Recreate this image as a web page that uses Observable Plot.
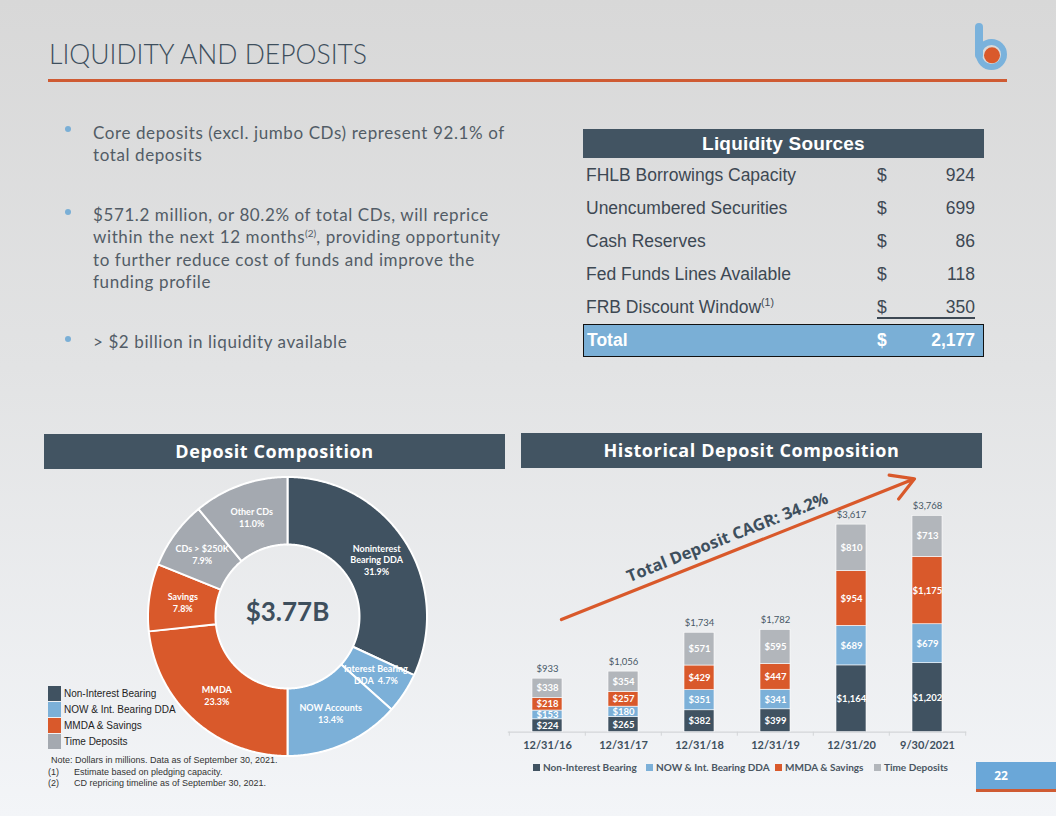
<!DOCTYPE html>
<html>
<head>
<meta charset="utf-8">
<script src="https://cdn.jsdelivr.net/npm/d3@7"></script>
<script src="https://cdn.jsdelivr.net/npm/@observablehq/plot@0.6"></script>
<style>
html,body{margin:0;padding:0;}
body{width:1056px;height:816px;overflow:hidden;position:relative;
  background:linear-gradient(180deg,#d8d8d8 0%,#e2e3e4 45%,#f3f5f8 100%);
  font-family:Lato,sans-serif;}
.abs{position:absolute;}
.title{left:49px;top:37.7px;font-size:26.5px;font-weight:300;color:#3e4f5d;line-height:32px;white-space:nowrap;}
.rule{left:48px;top:79px;width:959px;height:3px;background:#cf5b33;}
.bullet{left:93px;font-size:17px;letter-spacing:0.6px;line-height:22.5px;color:#525c66;white-space:nowrap;}
.bullet sup{font-size:10px;vertical-align:6px;line-height:0;letter-spacing:0;}
.dot{width:6px;height:6px;border-radius:3px;background:#7aafd6;left:65px;}
.thead{left:583px;top:129px;width:401px;height:29px;background:#425462;color:#fff;
  font-family:"Liberation Sans",Arial,sans-serif;font-weight:bold;font-size:19px;letter-spacing:0.2px;line-height:29px;text-align:center;}
.trow{font-family:"Liberation Sans",Arial,sans-serif;font-size:17.5px;color:#3d4853;height:20px;line-height:20px;white-space:nowrap;}
.trow sup{font-size:10.5px;vertical-align:7px;line-height:0;}
.ttotal{left:583px;top:324px;width:401px;height:33px;box-sizing:border-box;border:1.5px solid #111;background:#7aafd6;}
.sechead{height:35px;background:#425462;color:#fff;font-family:"Open Sans",sans-serif;font-weight:700;font-size:18px;letter-spacing:0.6px;line-height:35px;text-align:center;}
.lg{font-family:"Liberation Sans",Arial,sans-serif;font-size:10px;color:#1e1e1e;white-space:nowrap;}
.note{font-family:"Liberation Sans",Arial,sans-serif;font-size:9px;color:#333;white-space:nowrap;line-height:11px;}
.blg{font-family:Lato,sans-serif;font-weight:bold;font-size:10px;color:#4a5662;white-space:nowrap;line-height:12px;}
.blg span{display:inline-block;width:7px;height:7px;margin-right:3px;vertical-align:0px;}
</style>
</head>
<body>
<div class="abs title">LIQUIDITY AND DEPOSITS</div>
<div class="abs rule"></div>
<svg class="abs" style="left:970px;top:20px" width="45" height="56">
  <line x1="9" y1="7" x2="9" y2="35" stroke="#7ab2dc" stroke-width="8" stroke-linecap="round"/>
  <circle cx="21.5" cy="34.5" r="12.5" fill="none" stroke="#7ab2dc" stroke-width="6"/>
  <circle cx="22" cy="35.3" r="8" fill="#d9592b"/>
</svg>

<div id="bullets"></div>
<div id="table"></div>

<div class="abs sechead" style="left:44px;top:434px;width:461px;">Deposit Composition</div>
<div class="abs sechead" style="left:521px;top:433px;width:461px;">Historical Deposit Composition</div>

<div id="donut" class="abs" style="left:136.5px;top:465.5px;"></div>
<div id="bars" class="abs" style="left:500px;top:450px;"></div>
<div id="donutLegend"></div>
<div id="barLegend"></div>
<div id="notes"></div>

<div class="abs" style="left:976px;top:762px;width:80px;height:27px;background:#6aa7d8;border-bottom:3px solid #cf5b33;"></div>
<div class="abs" style="left:976px;top:762px;width:50px;height:27px;line-height:27px;text-align:center;color:#fff;font-family:'Open Sans',sans-serif;font-weight:700;font-size:12px;">22</div>

<script>
// ---------- Data ----------
const bulletLines = [
  ["Core deposits (excl. jumbo CDs) represent 92.1% of", "total deposits"],
  ["$571.2 million, or 80.2% of total CDs, will reprice", "within the next 12 months<sup>(2)</sup>, providing opportunity", "to further reduce cost of funds and improve the", "funding profile"],
  ["> $2 billion in liquidity available"]
];

const sourceNames = ["FHLB Borrowings Capacity", "Unencumbered Securities", "Cash Reserves", "Fed Funds Lines Available", "FRB Discount Window<sup>(1)</sup>"];
const sourceValues = [924, 699, 86, 118, 350];
const sourceTotal = 2177;

const sliceNames = ["Noninterest\nBearing DDA", "Interest Bearing\nDDA", "NOW Accounts", "MMDA", "Savings", "CDs > $250K", "Other CDs"];
const sliceShares = [31.9, 4.7, 13.4, 23.3, 7.8, 7.9, 11.0];
const sliceGroups = ["Non-Interest Bearing", "NOW & Int. Bearing DDA", "NOW & Int. Bearing DDA", "MMDA & Savings", "MMDA & Savings", "Time Deposits", "Time Deposits"];
const donutTotal = "$3.77B";

const periods = ["12/31/16", "12/31/17", "12/31/18", "12/31/19", "12/31/20", "9/30/2021"];
const seriesNames = ["Non-Interest Bearing", "NOW & Int. Bearing DDA", "MMDA & Savings", "Time Deposits"];
const nonInterest = [224, 265, 382, 399, 1164, 1202];
const nowDDA = [153, 180, 351, 341, 689, 679];
const mmdaSavings = [218, 257, 429, 447, 954, 1175];
const timeDeposits = [338, 354, 571, 595, 810, 713];
const totals = [933, 1056, 1734, 1782, 3617, 3768];
const cagrNote = [{from: "12/31/16", fromValue: 1866, to: "9/30/2021", toValue: 4505, at: "12/31/18", atValue: 3392, label: "Total Deposit CAGR: 34.2%"}];

const legendNames = ["Non-Interest Bearing", "NOW  & Int. Bearing DDA", "MMDA & Savings", "Time Deposits"];
const notes = ["Note: Dollars in millions. Data as of September 30, 2021.", "Estimate based on pledging capacity.", "CD repricing timeline as of September 30, 2021."];

// ---------- Styles ----------
const barColors = ["#405261", "#7cb0d8", "#d9592b", "#b2b6bb"];
const donutColors = ["#405261", "#7cb0d8", "#d9592b", "#a4a9b0"];
const slate = "#3e4f5d";

// ---------- Bullets ----------
const bulletTops = [121.5, 203.9, 331.2];
const bHost = document.getElementById("bullets");
bulletLines.forEach((lines, i) => {
  const d = document.createElement("div");
  d.className = "abs bullet";
  d.style.top = bulletTops[i] + "px";
  d.innerHTML = lines.join("<br>");
  bHost.appendChild(d);
  const dot = document.createElement("div");
  dot.className = "abs dot";
  dot.style.top = (bulletTops[i] + 17.8 - 10 - 3) + "px";
  bHost.appendChild(dot);
});

// ---------- Liquidity table ----------
const tHost = document.getElementById("table");
tHost.innerHTML = `<div class="abs thead">Liquidity Sources</div>`;
const fmt = d3.format(",");
sourceNames.forEach((name, i) => {
  const top = 175 + 33 * i - 10;
  tHost.innerHTML += `<div class="abs trow" style="left:586px;top:${top}px">${name}</div>
    <div class="abs trow" style="left:877px;top:${top}px">$</div>
    <div class="abs trow" style="left:900px;width:75px;text-align:right;top:${top}px">${fmt(sourceValues[i])}</div>`;
});
tHost.innerHTML += `<div class="abs" style="left:877px;top:317px;width:98px;height:1.5px;background:#3d4853"></div>
  <div class="abs ttotal"></div>
  <div class="abs trow" style="left:587px;top:330px;color:#fff;font-weight:bold">Total</div>
  <div class="abs trow" style="left:877px;top:330px;color:#fff;font-weight:bold">$</div>
  <div class="abs trow" style="left:900px;width:75px;text-align:right;top:330px;color:#fff;font-weight:bold">${fmt(sourceTotal)}</div>`;

// ---------- Donut ----------
const slices = sliceNames.map((name, i) => ({name, share: sliceShares[i], group: sliceGroups[i]}));
const arcs = d3.pie().sort(null).value(d => d.share)(slices);
const rOuter = 139.5, rInner = 72;
const slicePoints = arcs.flatMap((a, i) => {
  const n = Math.max(4, Math.ceil((a.endAngle - a.startAngle) / 0.01));
  const pts = [];
  for (let k = 0; k <= n; k++) {
    const t = a.startAngle + (a.endAngle - a.startAngle) * k / n;
    pts.push({slice: i, group: a.data.group, x: rOuter * Math.sin(t), y: rOuter * Math.cos(t)});
  }
  for (let k = n; k >= 0; k--) {
    const t = a.startAngle + (a.endAngle - a.startAngle) * k / n;
    pts.push({slice: i, group: a.data.group, x: rInner * Math.sin(t), y: rInner * Math.cos(t)});
  }
  return pts;
});
const rMid = (rOuter + rInner) / 2;
const sliceLabels = arcs.map(a => {
  const m = (a.startAngle + a.endAngle) / 2;
  const pct = a.data.share.toFixed(1) + "%";
  const text = a.data.name.endsWith("\nDDA") ? `${a.data.name}  ${pct}` : `${a.data.name}\n${pct}`;
  return {x: rMid * Math.sin(m), y: rMid * Math.cos(m), text};
});

const donut = Plot.plot({
  width: 300, height: 300, margin: 0,
  x: {domain: [-150, 150], axis: null},
  y: {domain: [-150, 150], axis: null},
  color: {domain: seriesNames, range: donutColors},
  style: {background: "transparent", overflow: "visible", fontFamily: "Lato, sans-serif"},
  marks: [
    Plot.line(slicePoints, {x: "x", y: "y", z: "slice", fill: "group", stroke: "white", strokeWidth: 2, curve: "linear-closed"}),
    Plot.text(sliceLabels, {x: "x", y: "y", text: "text", fill: "white", fontWeight: "bold", fontSize: 9, lineHeight: 1.3}),
    Plot.text([donutTotal], {frameAnchor: "middle", text: d => d, fill: slate, fontWeight: "bold", fontSize: 26, dy: -4})
  ]
});
document.getElementById("donut").appendChild(donut);

// ---------- Bars ----------
const seriesValues = [nonInterest, nowDDA, mmdaSavings, timeDeposits];
const barRows = periods.flatMap((p, i) => seriesNames.map((s, j) => ({period: p, series: s, value: seriesValues[j][i]})));
const totalRows = periods.map((p, i) => ({period: p, total: totals[i]}));

const bars = Plot.plot({
  width: 480, height: 310,
  marginLeft: 7.8, marginRight: 13.8, marginTop: 17.7, marginBottom: 28.3,
  x: {domain: periods, paddingInner: 0.6, paddingOuter: 0.3, tickSize: 0, tickPadding: 9, label: null},
  y: {domain: [0, 4600], axis: null},
  color: {domain: seriesNames, range: barColors},
  style: {background: "transparent", overflow: "visible", fontFamily: "Lato, sans-serif", fontSize: "11px", fontWeight: "bold", color: slate},
  marks: [
    Plot.ruleY([0], {stroke: "#d3d5d8", strokeWidth: 1.2}),
    Plot.ruleX(periods, {x: d => d, y1: 0, y2: -70, dx: -38.2, stroke: "#d3d5d8", strokeWidth: 1}),
    Plot.ruleX(periods.slice(-1), {x: d => d, y1: 0, y2: -70, dx: 38.2, stroke: "#d3d5d8", strokeWidth: 1}),
    Plot.barY(barRows, {x: "period", y: "value", fill: "series", stroke: "white", strokeWidth: 0.6}),
    Plot.text(barRows, Plot.stackY({x: "period", y: "value", text: d => "$" + fmt(d.value), fill: "white", fontWeight: "bold", fontSize: 9.5})),
    Plot.text(totalRows, {x: "period", y: "total", text: d => "$" + fmt(d.total), dy: -10, fill: "#475866", fontWeight: "normal", fontSize: 9.5}),
    Plot.arrow(cagrNote, {x1: "from", y1: "fromValue", x2: "to", y2: "toValue", stroke: "#d9592b", strokeWidth: 3.2, headLength: 12, insetStart: 15, insetEnd: 14}),
    Plot.text(cagrNote, {x: "at", y: "atValue", dx: 28, text: "label", rotate: -21.7, fill: slate, fontWeight: "bold", fontSize: 16.5, fontFamily: "Open Sans, sans-serif"})
  ]
});
document.getElementById("bars").appendChild(bars);

// ---------- Legends ----------
const dl = document.getElementById("donutLegend");
const lgTops = [686, 701.5, 717.5, 733.5];
legendNames.forEach((n, i) => {
  dl.innerHTML += `<div class="abs" style="left:48px;top:${lgTops[i]}px;width:13px;height:15px;background:${donutColors[i]}"></div>
  <div class="abs lg" style="left:64px;top:${lgTops[i]}px;line-height:15px">${n}</div>`;
});
const bl = document.getElementById("barLegend");
const blLeft = [533, 646, 775, 874];
seriesNames.forEach((n, i) => {
  bl.innerHTML += `<div class="abs blg" style="left:${blLeft[i]}px;top:761px"><span style="background:${barColors[i]}"></span>${n}</div>`;
});
const nh = document.getElementById("notes");
nh.innerHTML = `<div class="abs note" style="left:51px;top:755px">${notes[0]}</div>
<div class="abs note" style="left:48px;top:767px">(1)</div><div class="abs note" style="left:74px;top:767px">${notes[1]}</div>
<div class="abs note" style="left:48px;top:778px">(2)</div><div class="abs note" style="left:74px;top:778px">${notes[2]}</div>`;
</script>
</body>
</html>
